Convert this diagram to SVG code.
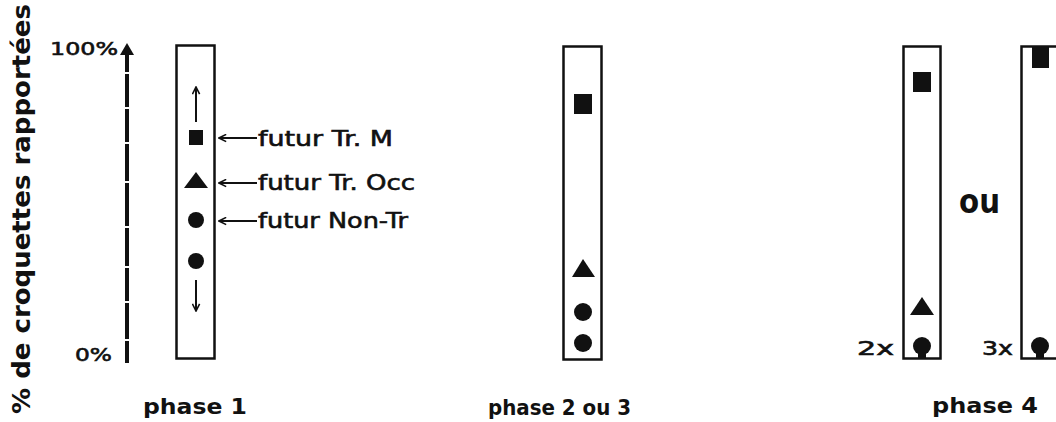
<svg xmlns="http://www.w3.org/2000/svg" width="1056" height="422" viewBox="0 0 1056 422">
<style>
.bold{font-family:"DejaVu Sans","Liberation Sans",sans-serif;font-weight:bold;fill:#111}
.plain{font-family:"DejaVu Sans","Liberation Sans",sans-serif;fill:#111;stroke:#111;stroke-width:0.6}
.box{fill:#fff;stroke:#111;stroke-width:2.5}
.sym{fill:#111;stroke:none}
.thin{fill:none;stroke:#111;stroke-width:2}
</style>
<defs>
<marker id="ah" viewBox="0 0 10 10" refX="9" refY="5" markerWidth="9" markerHeight="9" markerUnits="userSpaceOnUse" orient="auto">
<path d="M1,1 L9,5 L1,9" fill="none" stroke="#111" stroke-width="1.8"/>
</marker>
</defs>
<rect width="1056" height="422" fill="#fff"/>

<g id="axis-label">
<text class="bold" font-size="25" transform="translate(30,414) rotate(-90)" textLength="410" lengthAdjust="spacingAndGlyphs">% de croquettes rapportées</text>
</g>

<g id="axis">
<path d="M127,363 V341 M127,339 V303 M127,301 V268 M127,266 V228 M127,226 V183 M127,181 V144 M127,142 V109 M127,107 V74 M127,72 V54" stroke="#111" stroke-width="4" fill="none"/>
<path d="M120,55 L127,43 L134,55 Z" fill="#111"/>
<text class="plain" x="50" y="55" font-size="18" textLength="68" lengthAdjust="spacingAndGlyphs">100%</text>
<text class="plain" x="75" y="361" font-size="18" textLength="37" lengthAdjust="spacingAndGlyphs">0%</text>
</g>

<g id="phase1">
<rect class="box" x="176.5" y="45.5" width="38" height="313"/>
<rect class="sym" x="189" y="130" width="14" height="15"/>
<path class="sym" d="M196,172 L184,188 L208,188 Z"/>
<circle class="sym" cx="196" cy="220" r="8"/>
<circle class="sym" cx="196" cy="261" r="8"/>
<text class="bold" x="143" y="414" font-size="21" textLength="104" lengthAdjust="spacingAndGlyphs">phase 1</text>
</g>

<g id="phase2">
<rect class="box" x="563.5" y="46.5" width="38" height="313"/>
<rect class="sym" x="574" y="94" width="18" height="20"/>
<path class="sym" d="M583,259 L572,277 L595,277 Z"/>
<circle class="sym" cx="583" cy="312" r="9"/>
<circle class="sym" cx="583" cy="343" r="9"/>
<text class="bold" x="488" y="415" font-size="21" textLength="143" lengthAdjust="spacingAndGlyphs">phase 2 ou 3</text>
</g>

<g id="phase4a">
<rect class="box" x="903.5" y="46.5" width="37" height="312"/>
<rect class="sym" x="913" y="72" width="18" height="20"/>
<path class="sym" d="M922,297 L910,315 L934,315 Z"/>
<circle class="sym" cx="922" cy="346" r="9"/>
<rect class="sym" x="918" y="352" width="8" height="6"/>
<text class="plain" x="857" y="355" font-size="19" textLength="37" lengthAdjust="spacingAndGlyphs">2x</text>
</g>

<g id="ou">
<text class="bold" x="959" y="213" font-size="34" textLength="41" lengthAdjust="spacingAndGlyphs">ou</text>
</g>

<g id="phase4b">
<rect class="box" x="1021.5" y="46.5" width="60" height="312"/>
<rect class="sym" x="1032" y="47" width="17" height="21"/>
<circle class="sym" cx="1040" cy="346" r="9"/>
<rect class="sym" x="1036" y="352" width="8" height="6"/>
<text class="plain" x="982" y="355" font-size="19" textLength="31" lengthAdjust="spacingAndGlyphs">3x</text>
</g>

<g id="phase4-label">
<text class="bold" x="932" y="413" font-size="21" textLength="106" lengthAdjust="spacingAndGlyphs">phase 4</text>
</g>

<g id="labels">
<text class="plain" x="258" y="146" font-size="21" textLength="135" lengthAdjust="spacingAndGlyphs">futur Tr. M</text>
<text class="plain" x="258" y="190" font-size="21" textLength="157" lengthAdjust="spacingAndGlyphs">futur Tr. Occ</text>
<text class="plain" x="258" y="228" font-size="21" textLength="150" lengthAdjust="spacingAndGlyphs">futur Non-Tr</text>
</g>

<g id="connectors">
<line class="thin" x1="196" y1="122" x2="196" y2="87" marker-end="url(#ah)"/>
<line class="thin" x1="196" y1="280" x2="196" y2="311" marker-end="url(#ah)"/>
<line class="thin" x1="257" y1="138" x2="219" y2="138" marker-end="url(#ah)"/>
<line class="thin" x1="257" y1="183" x2="219" y2="183" marker-end="url(#ah)"/>
<line class="thin" x1="257" y1="221" x2="219" y2="221" marker-end="url(#ah)"/>
</g>
</svg>
